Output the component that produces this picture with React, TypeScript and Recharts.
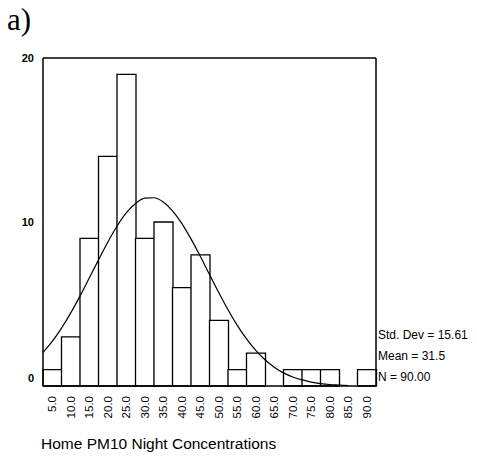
import {
  ComposedChart,
  Bar,
  Line,
  XAxis,
  YAxis,
  ReferenceLine,
} from 'recharts';

const BINS = ['5.0', '10.0', '15.0', '20.0', '25.0', '30.0', '35.0', '40.0', '45.0',
  '50.0', '55.0', '60.0', '65.0', '70.0', '75.0', '80.0', '85.0', '90.0'];
const COUNTS = [1, 3, 9, 14, 19, 9, 10, 6, 8, 4, 1, 2, 0, 1, 1, 1, 0, 1];

// fitted normal curve
const CURVE_X = [2.5, 5, 7.5, 10, 12.5, 15, 17.5, 20, 22.5, 25, 27.5, 30, 32.5, 35, 37.5,
  40, 42.5, 45, 47.5, 50, 52.5, 55, 57.5, 60, 62.5, 65, 67.5, 70, 72.5, 75, 77.5, 80, 82.5, 85];
const CURVE_Y = [2.05, 2.72, 3.53, 4.46, 5.48, 6.58, 7.69, 8.77, 9.74, 10.55, 11.13, 11.45,
  11.48, 11.22, 10.68, 9.92, 8.97, 7.91, 6.8, 5.7, 4.65, 3.7, 2.87, 2.17, 1.6, 1.15, 0.8,
  0.55, 0.37, 0.24, 0.15, 0.09, 0.06, 0.03];

const Y_TICKS = [0, 10, 20];
const STATS = ['Std. Dev = 15.61', 'Mean = 31.5', 'N = 90.00'];

const data = BINS.map((b, i) => ({ bin: b, count: COUNTS[i] }));
const curve = CURVE_X.map((x, i) => ({ x, y: CURVE_Y[i] }));

const FONT = 'Arial, "Liberation Sans", sans-serif';

const XTick = ({ x, y, payload }: any) => (
  <g transform={`translate(${x},${y + 2})`}>
    <text
      transform="rotate(-90)"
      textAnchor="end"
      dy="0.36em"
      fontSize={11.5}
      fontFamily={FONT}
      fill="#000"
    >
      {payload.value}
    </text>
  </g>
);

const YTick = ({ x, y, payload }: any) => (
  <text
    x={x - 1}
    y={payload.value === 0 ? y - 8 : y}
    dy="0.36em"
    textAnchor="end"
    fontSize={11}
    fontWeight="bold"
    fontFamily={FONT}
    fill="#000"
  >
    {payload.value}
  </text>
);

export default function App() {
  return (
    <div style={{ position: 'absolute', left: 0, top: 0, width: 477, height: 459, background: '#fff' }}>
      <div
        style={{
          position: 'absolute',
          left: 7,
          top: 3,
          fontFamily: '"Liberation Serif", "Times New Roman", serif',
          fontSize: 31,
          lineHeight: '34px',
        }}
      >
        a)
      </div>
      <ComposedChart
        width={477}
        height={459}
        data={data}
        margin={{ top: 58, right: 101, bottom: 38, left: 23 }}
        barCategoryGap={0}
      >
        <XAxis
          xAxisId="cat"
          dataKey="bin"
          interval={0}
          height={35}
          tick={<XTick />}
          tickLine={false}
          axisLine={{ stroke: '#000', strokeWidth: 1.3 }}
        />
        <XAxis
          xAxisId="num"
          dataKey="x"
          type="number"
          domain={[2.5, 92.5]}
          allowDataOverflow
          hide
        />
        <YAxis
          width={20}
          domain={[0, 20]}
          ticks={Y_TICKS}
          tick={<YTick />}
          tickLine={false}
          axisLine={{ stroke: '#000', strokeWidth: 1.5 }}
        />
        <ReferenceLine y={20} xAxisId="num" stroke="#000" strokeWidth={1.3} />
        <ReferenceLine x={92.5} xAxisId="num" stroke="#000" strokeWidth={1.5} />
        <Bar
          xAxisId="cat"
          dataKey="count"
          fill="#fff"
          stroke="#000"
          strokeWidth={1.3}
          isAnimationActive={false}
        />
        <Line
          xAxisId="num"
          data={curve}
          dataKey="y"
          type="monotone"
          stroke="#000"
          strokeWidth={1.2}
          dot={false}
          activeDot={false}
          isAnimationActive={false}
        />
      </ComposedChart>
      <div
        style={{
          position: 'absolute',
          left: 378,
          top: 325,
          fontFamily: FONT,
          fontSize: 12,
          lineHeight: '21px',
          color: '#000',
        }}
      >
        {STATS.map((s) => (
          <div key={s}>{s}</div>
        ))}
      </div>
      <div
        style={{
          position: 'absolute',
          left: 41,
          top: 435,
          fontFamily: FONT,
          fontSize: 15.5,
          color: '#000',
          whiteSpace: 'nowrap',
        }}
      >
        Home PM10 Night Concentrations
      </div>
    </div>
  );
}
